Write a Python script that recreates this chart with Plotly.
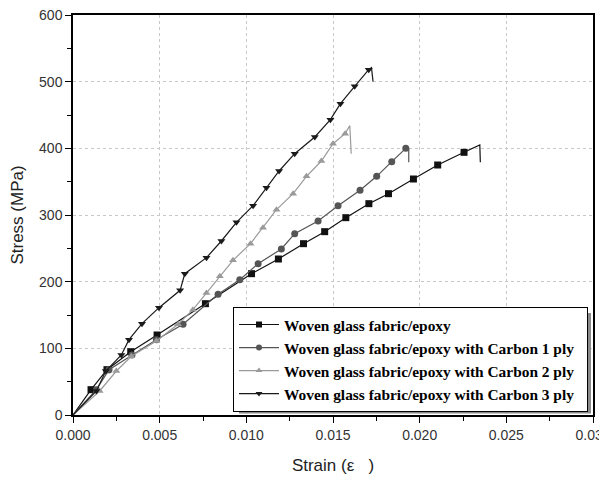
import plotly.graph_objects as go

# marker points (strain, stress in MPa)
strain_0 = [0.00104, 0.00196, 0.00333, 0.00485, 0.00764, 0.0103, 0.01185, 0.0133,
            0.01452, 0.01574, 0.01707, 0.0182, 0.01964, 0.02104, 0.02256]
stress_0 = [38, 68, 95, 120, 167, 212, 234, 257, 275, 296, 317, 332, 354, 375, 394]
peak_0 = (0.02347, 405)
fail_0 = (0.0235, 379)

strain_1 = [0.00135, 0.00208, 0.0034, 0.00481, 0.00635, 0.00837, 0.00962, 0.01068,
            0.01202, 0.01279, 0.01414, 0.01529, 0.01656, 0.01752, 0.01839, 0.0192]
stress_1 = [38, 68, 90, 113, 136, 181, 203, 227, 249, 272, 291, 314, 337, 358, 380, 400]
peak_1 = (0.01937, 399)
fail_1 = (0.01937, 379)

strain_2 = [0.00154, 0.0025, 0.00337, 0.00481, 0.00606, 0.00692, 0.0077, 0.00847,
            0.00923, 0.01024, 0.01096, 0.01174, 0.0127, 0.01347, 0.01433, 0.015, 0.0157]
stress_2 = [36, 66, 88, 111, 136, 158, 183, 208, 232, 257, 281, 308, 332, 358, 381, 407, 422]
peak_2 = (0.01597, 434)
fail_2 = (0.01605, 392)

strain_3 = [0.00135, 0.00189, 0.00279, 0.00323, 0.00398, 0.00496, 0.00618, 0.00645,
            0.0077, 0.00856, 0.00943, 0.01039, 0.01116, 0.01189, 0.01279, 0.01395,
            0.01485, 0.01543, 0.01625, 0.01706]
stress_3 = [36, 66, 90, 113, 137, 161, 187, 212, 236, 261, 289, 314, 341, 366, 392, 417,
            443, 467, 493, 518]
peak_3 = (0.01722, 521)
fail_3 = (0.01731, 500)

names = ["Woven glass fabric/epoxy",
         "Woven glass fabric/epoxy with Carbon 1 ply",
         "Woven glass fabric/epoxy with Carbon 2 ply",
         "Woven glass fabric/epoxy with Carbon 3 ply"]
colors = ["#111111", "#555555", "#9a9a9a", "#1a1a1a"]
symbols = ["square", "circle", "triangle-up", "triangle-down"]

series = [(strain_0, stress_0, peak_0, fail_0),
          (strain_1, stress_1, peak_1, fail_1),
          (strain_2, stress_2, peak_2, fail_2),
          (strain_3, stress_3, peak_3, fail_3)]

fig = go.Figure()
for (sx, sy, pk, fl), name, c, sym in zip(series, names, colors, symbols):
    lx = [0] + sx + [pk[0], fl[0]]
    ly = [0] + sy + [pk[1], fl[1]]
    fig.add_trace(go.Scatter(x=lx, y=ly, mode="lines", line=dict(color=c, width=1.2),
                             showlegend=False, hoverinfo="skip"))
    fig.add_trace(go.Scatter(x=sx, y=sy, mode="markers", showlegend=False,
                             marker=dict(symbol=sym, size=7, color=c)))
    # legend entry (trailing nbsp pads the box a little on the right)
    fig.add_trace(go.Scatter(x=[None], y=[None], mode="lines+markers",
                             name=name + "\u00a0\u00a0",
                             line=dict(color=c, width=1.2),
                             marker=dict(symbol=sym, size=6, color=c)))

# page has an 8px body margin, so the figure is 8px smaller and offset
OFF = 8
W, H = 607 - OFF, 479 - OFF
x0, x1 = 73 - OFF, 593 - OFF
y0, y1 = 15 - OFF, 415 - OFF

def px(v):
    return (v - OFF - x0) / (x1 - x0)

def py(v):
    return (y1 - (v - OFF)) / (y1 - y0)

# legend drop shadow
fig.add_shape(type="rect", xref="paper", yref="paper",
              x0=px(239), x1=px(591), y0=py(413.5), y1=py(313),
              fillcolor="#8a8a8a", line_width=0, layer="above")

axis_common = dict(showline=True, linecolor="black", linewidth=1.5, mirror=True,
                   ticks="outside", ticklen=6, tickwidth=1.2, tickcolor="black",
                   showgrid=True, gridcolor="#c8c8c8", griddash="dot", gridwidth=1,
                   zeroline=False, automargin=False, ticklabeloverflow="allow",
                   tickfont=dict(family="Liberation Sans, Arial", size=14, color="#333"))

fig.update_xaxes(range=[0, 0.03], dtick=0.005, tickformat=".3f",
                 minor=dict(dtick=0.0025, ticks="outside", ticklen=4, tickcolor="black", showgrid=False),
                 title=dict(text="Strain (ε   )", standoff=18,
                            font=dict(family="Liberation Sans, Arial", size=17, color="#222")),
                 **axis_common)
fig.update_yaxes(range=[0, 600], dtick=100,
                 minor=dict(dtick=50, ticks="outside", ticklen=4, tickcolor="black", showgrid=False),
                 title=dict(text="Stress (MPa)", standoff=12,
                            font=dict(family="Liberation Sans, Arial", size=17, color="#222")),
                 **axis_common)

fig.update_layout(
    width=W, height=H,
    margin=dict(l=x0, r=W - x1, t=y0, b=H - y1),
    plot_bgcolor="white", paper_bgcolor="white",
    legend=dict(x=px(233), y=py(307), xanchor="left", yanchor="top",
                bgcolor="white", bordercolor="black", borderwidth=1,
                font=dict(family="Liberation Serif, Times New Roman", size=15.4, color="black", weight="bold"),
                tracegroupgap=0, itemwidth=40),
    showlegend=True,
)

fig.write_html("out.html")
